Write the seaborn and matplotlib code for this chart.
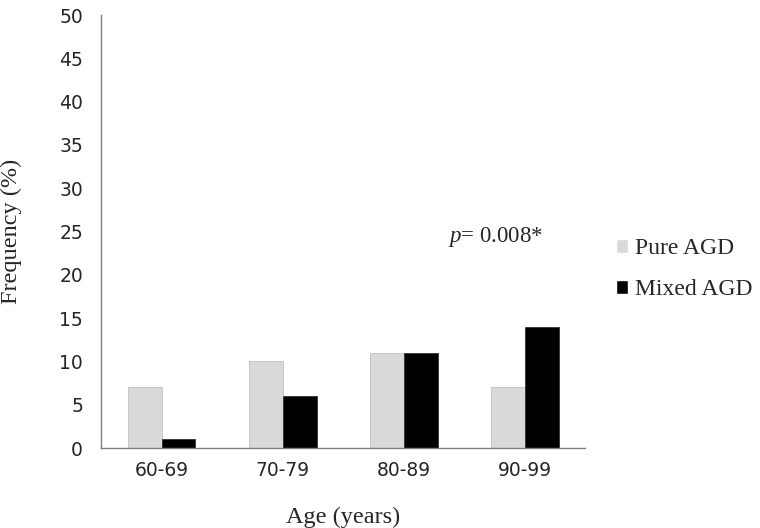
import matplotlib.pyplot as plt
import seaborn as sns
import pandas as pd
from matplotlib.ticker import FixedLocator

age_groups = ['60-69', '70-79', '80-89', '90-99']
pure_agd = [7, 10, 11, 7]
mixed_agd = [1, 6, 11, 14]
series_names = ['Pure AGD', 'Mixed AGD']
colors = ['#d9d9d9', '#000000']

df = pd.DataFrame({
    'Age': age_groups * 2,
    'Frequency': pure_agd + mixed_agd,
    'Group': [series_names[0]] * 4 + [series_names[1]] * 4,
})

sns.set_style('white')
plt.rcParams['mathtext.fontset'] = 'custom'
plt.rcParams['mathtext.it'] = 'Liberation Serif:italic'
plt.rcParams['mathtext.rm'] = 'Liberation Serif'
serif = ['Liberation Serif', 'DejaVu Serif']
tickfont = ['DejaVu Sans']

fig = plt.figure(figsize=(7.6, 5.28), dpi=100)
ax = fig.add_axes([0.133, 0.1515, 0.637, 0.82])

sns.barplot(data=df, x='Age', y='Frequency', hue='Group', palette=colors,
            width=0.56, gap=0, saturation=1, ax=ax, legend=True)
for bar, c in zip(ax.patches, ['#d9d9d9'] * 4 + ['#000000'] * 4):
    bar.set_edgecolor('#bfbfbf' if c == '#d9d9d9' else '#333333')
    bar.set_linewidth(0.6)

ax.set_xlim(-0.5, 3.5)
ax.set_ylim(0, 50)
ax.set_yticks(range(0, 51, 5))
ax.xaxis.set_minor_locator(FixedLocator([-0.5, 0.5, 1.5, 2.5, 3.5]))
ax.tick_params(axis='x', which='major', length=0, pad=9)
ax.tick_params(axis='x', which='minor', length=7, color='#808080', width=1, direction='out')
ax.tick_params(axis='y', length=6, color='#808080', width=1, direction='out', pad=7)
for lab in ax.get_xticklabels() + ax.get_yticklabels():
    lab.set_family(tickfont)
    lab.set_fontsize(13.5)

for side in ['top', 'right']:
    ax.spines[side].set_visible(False)
for side in ['left', 'bottom']:
    ax.spines[side].set_color('#808080')
    ax.spines[side].set_linewidth(1)

ax.set_xlabel('Age (years)', family=serif, fontsize=17.5, labelpad=20)
ax.set_ylabel('Frequency (%)', family=serif, fontsize=17.5, labelpad=27)

ax.text(2.76, 24.4, r'$\it{p}$= 0.008*', family=serif, fontsize=16.5,
        ha='center', va='center')

leg = ax.legend(loc='center left', bbox_to_anchor=(1.02, 0.413), frameon=False,
                prop={'family': serif, 'size': 17}, handlelength=0.5,
                handleheight=0.5, handletextpad=0.3, labelspacing=0.85)

fig.savefig('out.png', dpi=100)
